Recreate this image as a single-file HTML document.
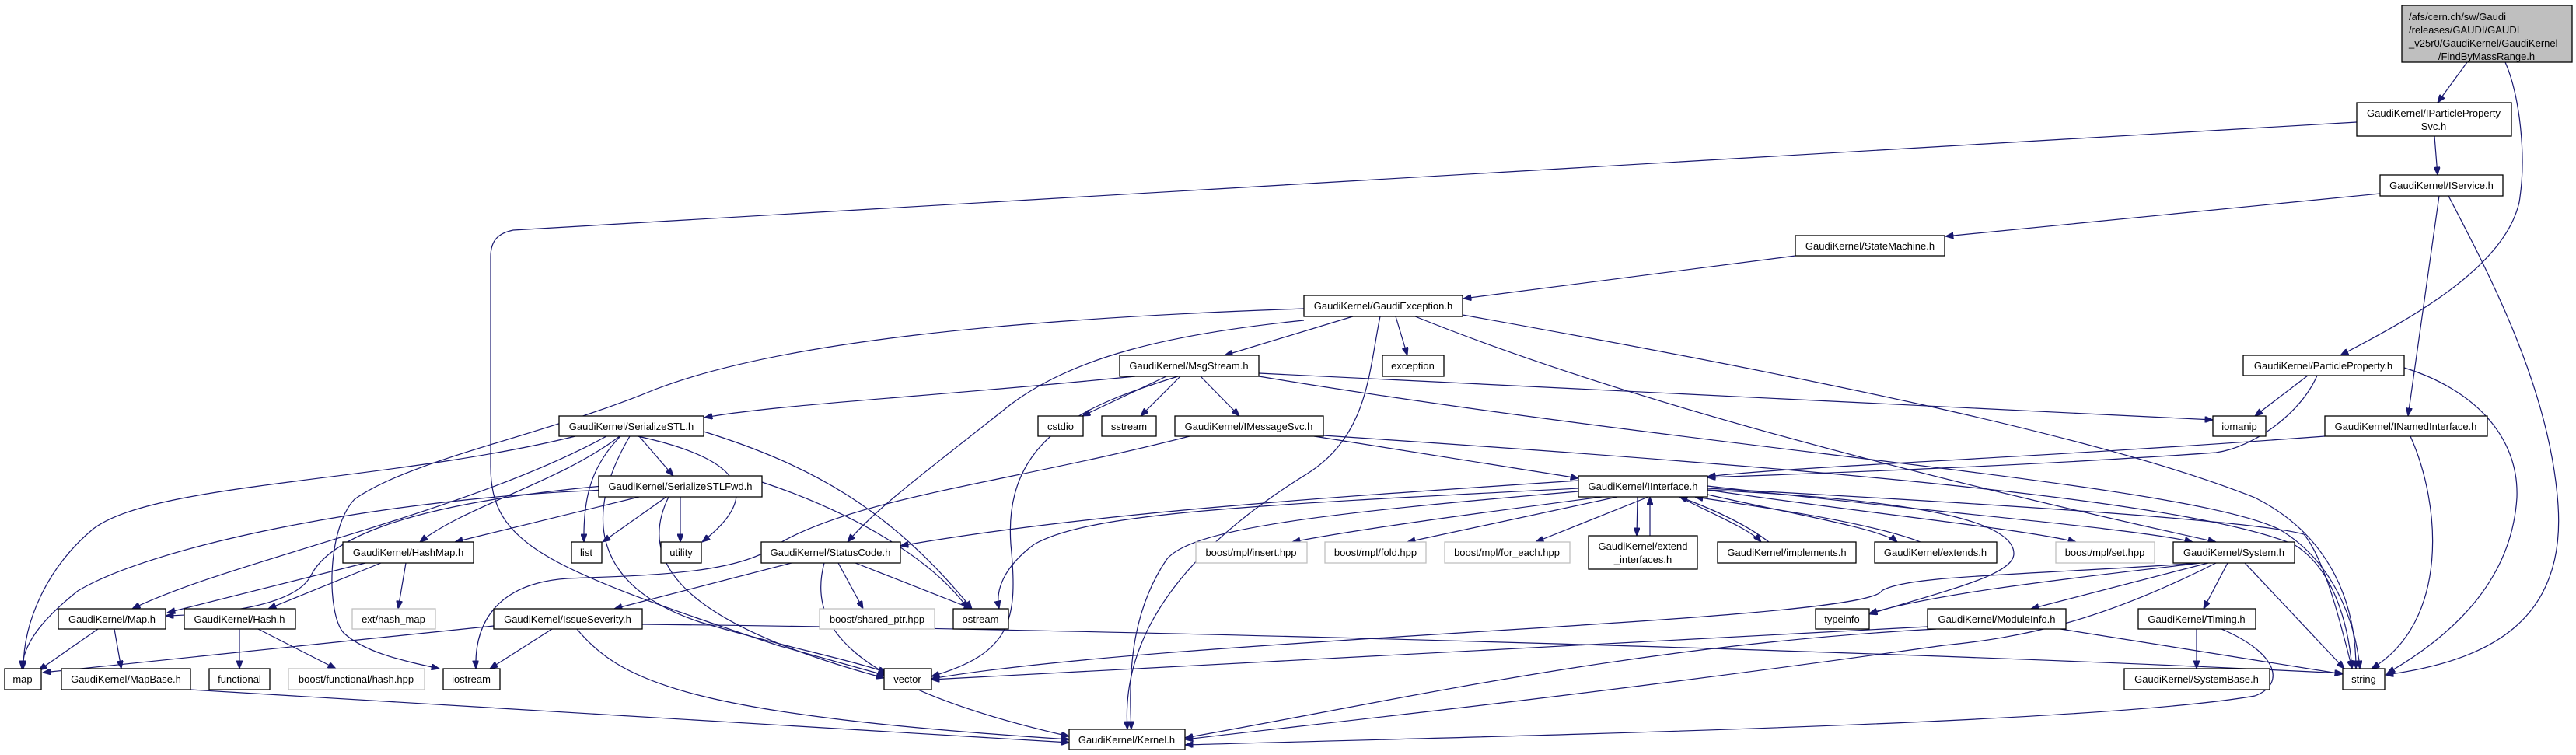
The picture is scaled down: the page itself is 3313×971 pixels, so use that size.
<!DOCTYPE html>
<html><head><meta charset="utf-8"><style>
html,body{margin:0;padding:0;background:#fff;}
svg{display:block;}
text{font-family:"Liberation Sans",sans-serif;font-size:13px;fill:#000;}
.e{fill:none;stroke:#191970;stroke-width:1.2;}
.n{fill:#fff;stroke:#000;stroke-width:1.3;}
.g{fill:#fff;stroke:#bfbfbf;stroke-width:1.3;}
</style></head><body>
<svg width="3313" height="971" viewBox="0 0 3313 971" xmlns="http://www.w3.org/2000/svg">
<defs><marker id="a" viewBox="0 0 10 8" refX="10" refY="4" markerWidth="11" markerHeight="8" markerUnits="userSpaceOnUse" orient="auto"><path d="M0,0 L10,4 L0,8 z" fill="#191970" stroke="#191970"/></marker></defs>
<g marker-end="url(#a)">
<path class="e" d="M3173,80 L3135,132"/>
<path class="e" d="M3222,80 C3240,120 3250,200 3240,260 C3220,350 3080,420 3010,457"/>
<path class="e" d="M3131,175 L3135,225"/>
<path class="e" d="M3031,157 L660,296 C640,300 631,310 631,330 L631,600 C631,700 700,730 1000,830 L1140,869"/>
<path class="e" d="M3061,249 L2502,304"/>
<path class="e" d="M3137,252 L3097,535"/>
<path class="e" d="M3149,252 C3200,350 3280,500 3290,650 C3300,800 3200,850 3068,868"/>
<path class="e" d="M2309,329 L1882,384"/>
<path class="e" d="M1740,407 L1575,457"/>
<path class="e" d="M1795,407 L1810,457"/>
<path class="e" d="M1677,412 C1500,430 1380,460 1300,520 C1200,600 1130,650 1090,697"/>
<path class="e" d="M1775,407 C1760,480 1760,560 1680,610 C1550,690 1440,800 1450,938"/>
<path class="e" d="M1677,397 C1300,410 1000,440 842,501 C700,560 530,590 456,642 C420,680 420,790 442,814 C470,840 520,850 565,860"/>
<path class="e" d="M1881,405 C2300,480 2700,560 2900,640 C3000,690 3030,780 3030,860"/>
<path class="e" d="M1820,407 C2100,520 2500,620 2850,697"/>
<path class="e" d="M1460,484 C1200,510 1000,520 906,537"/>
<path class="e" d="M1500,484 L1392,535"/>
<path class="e" d="M1518,484 L1467,535"/>
<path class="e" d="M1544,484 L1594,535"/>
<path class="e" d="M1515,484 C1400,520 1290,560 1300,700 C1310,800 1300,840 1198,870"/>
<path class="e" d="M1619,480 L2846,540"/>
<path class="e" d="M1619,484 C2200,580 2800,620 2930,680 C3000,720 3030,800 3035,860"/>
<path class="e" d="M1690,561 L2030,615"/>
<path class="e" d="M1702,560 C2300,600 2800,640 2950,700 C3000,730 3020,800 3025,860"/>
<path class="e" d="M1530,561 C1300,620 1100,640 1000,700 C950,740 820,740 730,744 C640,750 610,800 612,860"/>
<path class="e" d="M822,561 L866,612"/>
<path class="e" d="M740,561 C500,620 200,620 120,680 C60,730 30,800 30,860"/>
<path class="e" d="M780,561 C600,660 300,720 170,783"/>
<path class="e" d="M797,561 C720,620 600,650 540,697"/>
<path class="e" d="M798,561 C760,600 750,640 751,697"/>
<path class="e" d="M820,561 C1000,600 950,660 903,697"/>
<path class="e" d="M810,561 C740,680 780,760 900,800 C1000,830 1100,850 1140,865"/>
<path class="e" d="M905,555 C1050,600 1150,660 1250,783"/>
<path class="e" d="M780,630 C500,640 200,700 100,760 C50,800 30,830 28,860"/>
<path class="e" d="M775,625 C500,650 420,700 400,740 C380,780 280,790 213,792"/>
<path class="e" d="M822,639 L585,697"/>
<path class="e" d="M857,639 L775,697"/>
<path class="e" d="M875,639 L875,697"/>
<path class="e" d="M860,639 C820,720 870,800 1137,872"/>
<path class="e" d="M980,620 C1100,660 1200,720 1245,783"/>
<path class="e" d="M470,724 L215,788"/>
<path class="e" d="M490,724 L345,783"/>
<path class="e" d="M522,724 L512,783"/>
<path class="e" d="M126,809 L50,862"/>
<path class="e" d="M147,809 L156,860"/>
<path class="e" d="M308,809 L308,860"/>
<path class="e" d="M332,809 L432,860"/>
<path class="e" d="M245,887 L1375,955"/>
<path class="e" d="M635,805 L55,865"/>
<path class="e" d="M710,809 L630,860"/>
<path class="e" d="M742,809 C800,880 900,920 1375,951"/>
<path class="e" d="M826,803 C1500,810 2500,840 3013,866"/>
<path class="e" d="M1018,724 L790,783"/>
<path class="e" d="M1078,724 L1110,783"/>
<path class="e" d="M1100,724 L1250,783"/>
<path class="e" d="M1060,724 C1040,800 1080,880 1375,947"/>
<path class="e" d="M2030,618 C1700,640 1400,660 1158,702"/>
<path class="e" d="M2060,639 C1900,660 1750,680 1662,697"/>
<path class="e" d="M2080,639 L1810,697"/>
<path class="e" d="M2120,639 L1975,697"/>
<path class="e" d="M2106,639 L2105,689"/>
<path class="e" d="M2122,689 L2122,639"/>
<path class="e" d="M2275,697 C2240,670 2190,650 2160,639"/>
<path class="e" d="M2160,639 C2200,660 2250,680 2265,697"/>
<path class="e" d="M2470,697 C2400,670 2250,650 2180,639"/>
<path class="e" d="M2196,636 C2300,660 2420,680 2440,697"/>
<path class="e" d="M2196,630 C2400,660 2600,680 2670,697"/>
<path class="e" d="M2196,625 C2500,660 2750,680 2820,697"/>
<path class="e" d="M2030,628 C1600,650 1400,660 1330,700 C1290,730 1280,760 1285,783"/>
<path class="e" d="M2030,632 C1700,660 1530,680 1500,720 C1460,780 1450,850 1455,938"/>
<path class="e" d="M2196,630 C2400,640 2590,660 2590,712 C2590,740 2500,760 2404,790"/>
<path class="e" d="M2196,628 C2600,650 2900,670 2963,687 C2990,720 3010,800 3025,860"/>
<path class="e" d="M2990,561 C2600,590 2300,600 2196,613"/>
<path class="e" d="M3100,561 C3140,650 3150,800 3050,860"/>
<path class="e" d="M2968,483 L2900,535"/>
<path class="e" d="M2980,483 C2960,530 2900,575 2850,582 C2600,600 2300,610 2196,614"/>
<path class="e" d="M3092,473 C3180,500 3240,560 3237,640 C3230,750 3150,820 3070,866"/>
<path class="e" d="M2830,724 C2700,740 2500,760 2404,789"/>
<path class="e" d="M2840,724 L2612,783"/>
<path class="e" d="M2865,724 L2834,783"/>
<path class="e" d="M2887,724 L3015,860"/>
<path class="e" d="M2850,724 C2700,800 2600,820 2500,830 C2000,900 1700,930 1524,951"/>
<path class="e" d="M2830,724 C2600,740 2450,740 2420,760 C2400,800 1500,820 1198,873"/>
<path class="e" d="M2479,806 L1198,874"/>
<path class="e" d="M2650,809 L3013,867"/>
<path class="e" d="M2490,809 C2100,830 1800,900 1524,949"/>
<path class="e" d="M2825,809 L2825,860"/>
<path class="e" d="M2857,809 C2930,840 2940,880 2900,895 C2700,930 2000,945 1524,958"/>
</g>

<rect x="3089" y="7" width="219" height="73" fill="#bfbfbf" stroke="#000" stroke-width="1.3"/>
<text x="3098" y="26">/afs/cern.ch/sw/Gaudi</text>
<text x="3098" y="43">/releases/GAUDI/GAUDI</text>
<text x="3098" y="60">_v25r0/GaudiKernel/GaudiKernel</text>
<text x="3198" y="77" text-anchor="middle">/FindByMassRange.h</text>

<rect class="n" x="3031" y="132" width="199" height="43"/>
<text x="3130" y="150" text-anchor="middle">GaudiKernel/IParticleProperty</text>
<text x="3130" y="167" text-anchor="middle">Svc.h</text>

<rect class="n" x="2043" y="689" width="140" height="43"/>
<text x="2113" y="707" text-anchor="middle">GaudiKernel/extend</text>
<text x="2113" y="724" text-anchor="middle">_interfaces.h</text>

<g>
<rect class="n" x="3061" y="225" width="158" height="27"/><text x="3140" y="243" text-anchor="middle">GaudiKernel/IService.h</text>
<rect class="n" x="2309" y="303" width="192" height="26"/><text x="2405" y="321" text-anchor="middle">GaudiKernel/StateMachine.h</text>
<rect class="n" x="1677" y="380" width="204" height="27"/><text x="1779" y="398" text-anchor="middle">GaudiKernel/GaudiException.h</text>
<rect class="n" x="1440" y="457" width="179" height="27"/><text x="1529" y="475" text-anchor="middle">GaudiKernel/MsgStream.h</text>
<rect class="n" x="1778" y="457" width="79" height="27"/><text x="1817" y="475" text-anchor="middle">exception</text>
<rect class="n" x="2885" y="457" width="207" height="26"/><text x="2988" y="475" text-anchor="middle">GaudiKernel/ParticleProperty.h</text>
<rect class="n" x="719" y="535" width="186" height="26"/><text x="812" y="553" text-anchor="middle">GaudiKernel/SerializeSTL.h</text>
<rect class="n" x="1335" y="535" width="58" height="26"/><text x="1364" y="553" text-anchor="middle">cstdio</text>
<rect class="n" x="1417" y="535" width="70" height="26"/><text x="1452" y="553" text-anchor="middle">sstream</text>
<rect class="n" x="1511" y="535" width="191" height="26"/><text x="1606" y="553" text-anchor="middle">GaudiKernel/IMessageSvc.h</text>
<rect class="n" x="2846" y="535" width="68" height="26"/><text x="2880" y="553" text-anchor="middle">iomanip</text>
<rect class="n" x="2990" y="535" width="209" height="26"/><text x="3094" y="553" text-anchor="middle">GaudiKernel/INamedInterface.h</text>
<rect class="n" x="770" y="612" width="210" height="27"/><text x="875" y="630" text-anchor="middle">GaudiKernel/SerializeSTLFwd.h</text>
<rect class="n" x="2030" y="612" width="166" height="27"/><text x="2113" y="630" text-anchor="middle">GaudiKernel/IInterface.h</text>
<rect class="n" x="441" y="697" width="168" height="27"/><text x="525" y="715" text-anchor="middle">GaudiKernel/HashMap.h</text>
<rect class="n" x="735" y="697" width="39" height="27"/><text x="754" y="715" text-anchor="middle">list</text>
<rect class="n" x="850" y="697" width="52" height="27"/><text x="876" y="715" text-anchor="middle">utility</text>
<rect class="n" x="979" y="697" width="179" height="27"/><text x="1068" y="715" text-anchor="middle">GaudiKernel/StatusCode.h</text>
<rect class="g" x="1538" y="697" width="143" height="27"/><text x="1609" y="715" text-anchor="middle">boost/mpl/insert.hpp</text>
<rect class="g" x="1704" y="697" width="130" height="27"/><text x="1769" y="715" text-anchor="middle">boost/mpl/fold.hpp</text>
<rect class="g" x="1858" y="697" width="161" height="27"/><text x="1938" y="715" text-anchor="middle">boost/mpl/for_each.hpp</text>
<rect class="n" x="2209" y="697" width="178" height="27"/><text x="2298" y="715" text-anchor="middle">GaudiKernel/implements.h</text>
<rect class="n" x="2411" y="697" width="157" height="27"/><text x="2489" y="715" text-anchor="middle">GaudiKernel/extends.h</text>
<rect class="g" x="2644" y="697" width="127" height="27"/><text x="2707" y="715" text-anchor="middle">boost/mpl/set.hpp</text>
<rect class="n" x="2795" y="697" width="156" height="27"/><text x="2873" y="715" text-anchor="middle">GaudiKernel/System.h</text>
<rect class="n" x="75" y="783" width="138" height="26"/><text x="144" y="801" text-anchor="middle">GaudiKernel/Map.h</text>
<rect class="n" x="237" y="783" width="143" height="26"/><text x="308" y="801" text-anchor="middle">GaudiKernel/Hash.h</text>
<rect class="g" x="453" y="783" width="107" height="26"/><text x="506" y="801" text-anchor="middle">ext/hash_map</text>
<rect class="n" x="635" y="783" width="191" height="26"/><text x="730" y="801" text-anchor="middle">GaudiKernel/IssueSeverity.h</text>
<rect class="g" x="1054" y="783" width="148" height="26"/><text x="1128" y="801" text-anchor="middle">boost/shared_ptr.hpp</text>
<rect class="n" x="1226" y="783" width="71" height="26"/><text x="1261" y="801" text-anchor="middle">ostream</text>
<rect class="n" x="2335" y="783" width="69" height="26"/><text x="2369" y="801" text-anchor="middle">typeinfo</text>
<rect class="n" x="2479" y="783" width="178" height="26"/><text x="2568" y="801" text-anchor="middle">GaudiKernel/ModuleInfo.h</text>
<rect class="n" x="2750" y="783" width="151" height="26"/><text x="2825" y="801" text-anchor="middle">GaudiKernel/Timing.h</text>
<rect class="n" x="6" y="860" width="47" height="27"/><text x="29" y="878" text-anchor="middle">map</text>
<rect class="n" x="79" y="860" width="166" height="27"/><text x="162" y="878" text-anchor="middle">GaudiKernel/MapBase.h</text>
<rect class="n" x="269" y="860" width="78" height="27"/><text x="308" y="878" text-anchor="middle">functional</text>
<rect class="g" x="371" y="860" width="175" height="27"/><text x="458" y="878" text-anchor="middle">boost/functional/hash.hpp</text>
<rect class="n" x="570" y="860" width="73" height="27"/><text x="606" y="878" text-anchor="middle">iostream</text>
<rect class="n" x="1137" y="860" width="61" height="27"/><text x="1167" y="878" text-anchor="middle">vector</text>
<rect class="n" x="2732" y="860" width="187" height="27"/><text x="2825" y="878" text-anchor="middle">GaudiKernel/SystemBase.h</text>
<rect class="n" x="3013" y="860" width="54" height="27"/><text x="3040" y="878" text-anchor="middle">string</text>
<rect class="n" x="1375" y="938" width="149" height="26"/><text x="1449" y="956" text-anchor="middle">GaudiKernel/Kernel.h</text>
</g>
</svg>
</body></html>
